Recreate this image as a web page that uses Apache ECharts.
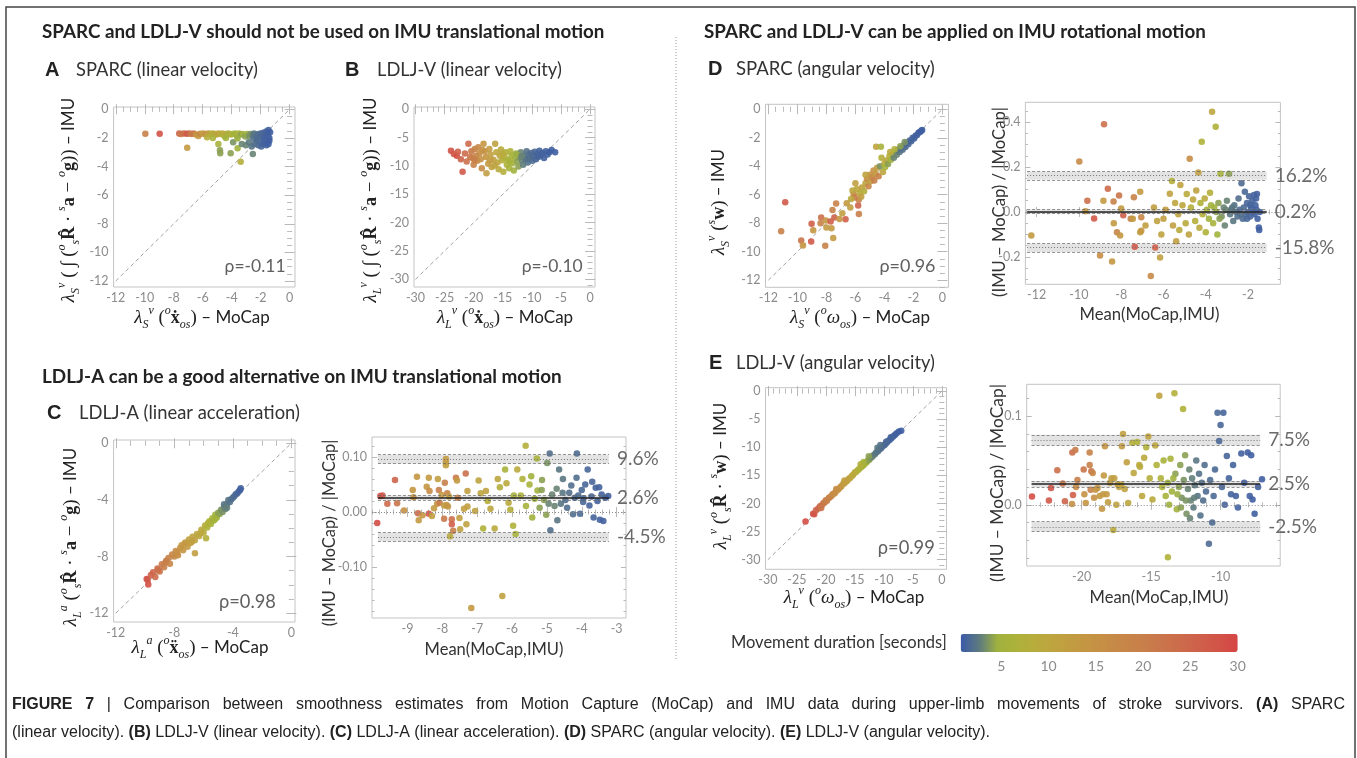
<!DOCTYPE html>
<html>
<head>
<meta charset="utf-8">
<script src="https://cdn.jsdelivr.net/npm/echarts@6/dist/echarts.min.js"></script>
</head>
<body style="margin:0;background:#fff">
<div id="main" style="width:1357px;height:758px;"></div>
<script>
// points: [MoCap (or mean), IMU (or relative difference), movement duration in s]
var sparcLin = [
  [-9.96,-1.71,20],[-8.97,-1.71,28],[-7.62,-1.70,25],[-7.50,-1.72,21],[-7.30,-1.70,23],[-7.10,-1.71,27],[-6.92,-1.70,26],[-6.78,-1.72,19],
  [-6.62,-1.70,22],[-6.47,-1.76,15],[-6.30,-1.86,13],[-6.18,-1.71,17],[-5.98,-1.70,12],[-5.82,-1.73,15],[-5.62,-1.70,13],[-5.46,-1.71,10],
  [-5.30,-1.70,7],[-5.16,-1.72,11],[-5.04,-1.76,9],[-4.90,-1.70,12],[-4.78,-1.73,8],[-4.62,-1.70,9],[-4.50,-1.86,7],[-4.36,-1.72,10],
  [-4.22,-1.70,6],[-4.06,-1.76,8],[-3.92,-1.72,6],[-3.76,-1.70,5],[-3.62,-1.86,5],[-3.50,-1.70,7],[-3.36,-1.76,4],[-3.22,-1.72,5],
  [-3.06,-1.90,4],[-2.92,-1.72,4.5],[-2.80,-1.86,3.5],[-2.70,-1.72,3.5],[-2.56,-1.80,3],[-2.46,-1.70,2.5],[-2.36,-1.86,2.5],[-2.22,-1.75,2],
  [-2.12,-1.95,2],[-2.02,-1.70,1.8],[-1.92,-1.80,1.6],[-1.82,-1.64,1.5],[-1.72,-1.90,1.4],[-1.62,-1.55,1.3],[-1.52,-1.70,1.2],[-1.46,-1.45,1.1],
  [-1.40,-2.00,1.1],[-1.35,-1.60,1.0],[-7.07,-2.68,13],[-4.92,-2.43,6],[-4.81,-2.87,4],[-4.79,-3.08,4],[-4.07,-3.08,4],[-3.59,-2.73,5],
  [-3.38,-3.66,8],[-2.54,-3.13,3],[-3.90,-2.30,3.5],[-3.30,-2.42,3],[-3.02,-2.52,3],[-2.82,-2.30,2.6],[-2.62,-2.60,2.4],[-2.42,-2.42,2],
  [-2.30,-2.20,2],[-2.16,-2.52,1.8],[-2.02,-2.30,1.5],[-1.96,-2.60,1.5],[-1.82,-2.40,1.3],[-1.70,-2.20,1.3],[-1.60,-2.52,1.2],[-1.54,-2.30,1.1],
  [-1.46,-2.42,1.0],[-1.40,-2.20,1.0],[-2.50,-2.02,2.2],[-2.26,-2.02,1.8],[-1.76,-2.06,1.2],[-1.50,-1.86,1.1],[-3.60,-2.05,4.5],[-4.40,-2.00,5],
  [-5.30,-2.00,6],[-5.70,-1.95,8]
];
var ldljLin = [
  [-23.9,-7.3,28],[-23.4,-7.9,27],[-22.9,-8.2,29],[-22.7,-7.5,26],[-21.9,-11.0,27],[-22.2,-8.8,25],[-21.5,-7.8,24],[-21.2,-9.2,23],
  [-20.9,-6.1,24],[-20.6,-8.4,22],[-20.4,-7.4,21],[-20.2,-8.6,20],[-20.0,-9.8,19],[-19.8,-7.0,19],[-19.6,-8.2,18],[-19.4,-9.1,18],
  [-19.2,-6.7,17],[-19.0,-7.8,16],[-18.8,-8.8,15],[-18.6,-10.4,16],[-18.3,-6.1,14],[-18.1,-7.4,15],[-17.9,-8.4,14],[-17.8,-11.3,12],
  [-17.5,-9.6,13],[-17.3,-7.0,13],[-17.1,-8.0,12],[-16.9,-10.2,11],[-16.6,-8.9,12],[-16.3,-6.1,11],[-16.1,-7.6,10],[-15.9,-9.4,10],
  [-15.7,-10.6,9],[-15.5,-8.2,10],[-15.3,-7.1,9],[-15.1,-9.0,8],[-14.9,-11.0,8],[-14.7,-8.5,8],[-14.5,-7.6,7],[-14.3,-9.8,7],
  [-14.1,-8.9,6],[-13.9,-10.4,6],[-13.7,-7.4,7],[-13.5,-8.2,6],[-13.3,-9.5,5],[-13.1,-10.8,5],[-12.9,-8.6,5],[-12.7,-7.8,4.5],
  [-12.5,-9.2,4],[-12.3,-10.1,4],[-12.1,-8.4,3.5],[-11.9,-7.6,3],[-11.7,-9.0,3],[-11.5,-9.8,2.8],[-11.3,-8.2,2.6],[-11.1,-8.8,2.4],
  [-10.9,-7.4,2.2],[-10.7,-9.4,2.2],[-10.5,-8.0,2],[-10.3,-8.6,2],[-10.1,-7.7,1.8],[-9.9,-9.1,1.8],[-9.7,-8.3,1.6],[-9.5,-7.5,1.6],
  [-9.3,-8.8,1.5],[-9.1,-7.9,1.4],[-8.9,-8.4,1.4],[-8.7,-7.3,1.3],[-8.5,-8.1,1.3],[-8.2,-7.7,1.2],[-7.9,-8.6,1.2],[-7.6,-7.4,1.1],
  [-7.3,-8.0,1.1],[-7.0,-7.6,1.0],[-6.6,-7.2,1.0],[-6.0,-7.6,1.0],[-19.9,-8.9,20],[-18.5,-7.2,15],[-17.2,-9.0,13],[-16.4,-9.9,11],
  [-15.0,-7.9,9],[-13.8,-9.2,6],[-12.6,-8.0,4.5],[-11.8,-8.3,3],[-10.6,-8.7,2]
];
var ldljAcc = [
  [-9.89,-9.58,29],[-9.78,-9.98,28],[-9.82,-9.65,27],[-9.60,-9.30,26],[-9.45,-9.10,25],[-9.30,-9.45,24],[-9.15,-8.85,23],[-9.00,-9.05,22],
  [-8.85,-8.55,21],[-8.70,-8.75,20],[-8.55,-8.30,19],[-8.40,-8.10,19],[-8.30,-8.50,18],[-8.15,-7.85,18],[-8.00,-8.00,17],[-7.90,-7.60,16],
  [-7.75,-7.90,16],[-7.60,-7.40,15],[-7.50,-7.20,14],[-7.40,-7.55,14],[-7.25,-7.00,13],[-7.10,-7.30,13],[-7.00,-6.80,12],[-6.90,-7.05,12],
  [-6.75,-6.60,11],[-6.60,-6.85,11],[-6.59,-7.76,12],[-6.45,-6.40,10],[-6.30,-6.55,10],[-6.15,-6.10,9],[-6.00,-6.30,9],[-5.90,-5.80,8],
  [-5.83,-6.70,8],[-5.75,-5.95,7],[-5.60,-5.50,7],[-5.50,-5.70,6],[-5.40,-5.30,6],[-5.30,-5.45,5],[-5.20,-5.05,5],[-5.10,-5.25,4.5],
  [-5.00,-4.90,4],[-4.90,-5.00,4],[-4.80,-4.70,3.5],[-4.70,-4.85,3.5],[-4.60,-4.50,3],[-4.50,-4.65,3],[-4.40,-4.30,2.6],[-4.31,-4.00,2.4],
  [-4.20,-4.15,2.2],[-4.10,-3.95,2],[-4.00,-3.85,1.9],[-3.90,-3.75,1.8],[-3.80,-3.60,1.6],[-3.70,-3.55,1.5],[-3.60,-3.40,1.4],[-3.50,-3.30,1.2],
  [-3.46,-3.18,1.1],[-4.60,-4.30,2.5],[-4.40,-4.55,2.8],[-5.20,-5.35,5.5],[-5.70,-5.65,7],[-6.20,-6.35,9.5],[-6.80,-6.95,11.5],[-7.30,-7.10,13.5],
  [-7.80,-7.75,15.5],[-8.60,-8.40,20],[-9.10,-8.95,23]
];
var ldljAccBA = [
  [-9.87,-0.020,29],[-9.78,0.029,28],[-9.72,0.030,27],[-9.58,0.015,24],[-9.36,0.058,25],[-9.30,0.016,22],[-9.10,0.003,15],[-8.85,0.040,14],
  [-8.83,0.027,15],[-8.73,0.064,14],[-8.70,-0.002,24],[-8.68,-0.015,13],[-8.57,-0.006,14],[-8.45,0.046,14],[-8.39,0.062,13],[-8.39,-0.003,27],
  [-8.37,0.038,16],[-8.30,-0.007,12],[-8.24,0.007,13],[-8.15,0.015,14],[-8.13,0.060,12],[-8.10,0.040,20],[-8.08,0.017,21],[-8.02,0.031,13],
  [-7.95,-0.012,21],[-7.95,0.012,12],[-7.93,0.053,20],[-7.90,0.096,13],[-7.90,0.090,13],[-7.90,0.085,12],[-7.88,0.013,13],[-7.86,0.034,19],
  [-7.84,0.010,14],[-7.81,0.028,12],[-7.78,-0.044,9],[-7.73,-0.013,23],[-7.73,-0.022,26],[-7.69,-0.034,20],[-7.61,0.062,21],[-7.58,0.057,13],
  [-7.56,0.026,20],[-7.51,-0.011,12],[-7.49,-0.031,11],[-7.38,0.006,12],[-7.33,0.070,23],[-7.31,-0.022,11],[-7.28,0.038,12],[-7.28,0.010,12],
  [-7.17,-0.174,13],[-7.06,0.002,11],[-6.96,0.057,11],[-6.90,0.034,10],[-6.83,-0.030,7],[-6.75,0.038,11],[-6.62,0.006,10],[-6.50,-0.030,9],
  [-6.41,0.060,10],[-6.28,-0.152,11],[-6.20,0.077,6],[-6.16,0.052,9],[-6.10,0.017,9],[-6.05,0.004,8],[-5.97,-0.025,7],[-5.90,-0.040,6],
  [-5.85,0.077,9],[-5.75,0.030,7],[-5.61,0.120,8],[-5.60,0.011,6],[-5.50,0.050,6],[-5.42,-0.010,5],[-5.35,0.024,5],[-5.29,0.097,6],
  [-5.27,0.039,5],[-5.21,0.008,4],[-5.14,0.058,4],[-5.08,0.022,4],[-5.02,-0.005,4],[-4.99,0.089,3.5],[-4.92,0.106,2],[-4.90,-0.033,2],
  [-4.85,0.032,3],[-4.78,0.011,3],[-4.72,0.042,3],[-4.65,0.077,2.5],[-4.60,0.015,2.5],[-4.54,0.060,2.5],[-4.47,0.022,2],[-4.42,0.008,2],
  [-4.36,0.035,2],[-4.30,0.048,2],[-4.25,-0.004,2],[-4.20,0.026,1.8],[-4.14,0.106,1.8],[-4.10,0.030,1.8],[-4.05,-0.003,1.7],[-4.00,0.040,1.6],
  [-3.96,0.018,1.6],[-3.90,0.050,1.5],[-3.83,0.077,1.5],[-3.78,0.012,1.4],[-3.72,0.028,1.4],[-3.66,-0.010,1.4],[-3.60,0.044,1.3],[-3.55,0.020,1.3],
  [-3.48,-0.014,1.2],[-3.43,0.032,1.2],[-3.38,-0.016,1.2],[-3.32,0.026,1.1],[-3.24,0.029,1.1],[-6.70,0.020,8],[-6.35,0.045,8],[-5.95,0.030,6],
  [-5.70,0.060,7],[-5.45,0.065,5],[-5.15,0.040,4],[-4.95,0.015,3],[-4.70,-0.015,2.5],[-4.55,0.035,2.5],[-4.15,0.062,2],[-3.95,0.025,1.6],
  [-3.70,0.055,1.5],[-3.50,0.045,1.3]
];
var sparcAng = [
  [-10.84,-6.52,27],[-11.12,-8.56,20],[-9.74,-9.21,22],[-9.62,-9.56,14],[-9.02,-8.04,26],[-9.05,-9.28,27],[-8.91,-8.49,14],[-8.36,-7.60,23],
  [-8.40,-8.00,19],[-8.03,-7.81,14],[-8.08,-9.59,19],[-8.00,-8.30,13],[-7.71,-7.88,26],[-7.65,-8.35,13],[-7.53,-9.03,13],[-7.58,-7.08,19],
  [-7.33,-6.61,19],[-7.45,-7.60,25],[-6.68,-7.72,26],[-6.60,-6.60,13],[-6.35,-6.90,12],[-6.12,-5.96,18],[-6.05,-6.20,20],[-5.81,-6.75,25],
  [-5.77,-6.35,19],[-5.76,-7.36,20],[-6.00,-5.20,12],[-5.90,-5.60,10],[-5.70,-5.90,9],[-5.55,-5.50,11],[-5.40,-5.75,8],[-5.30,-5.20,10],
  [-5.20,-4.90,16],[-5.10,-5.40,18],[-5.00,-4.60,14],[-4.95,-5.05,12],[-4.85,-4.75,17],[-4.75,-4.30,15],[-4.70,-5.00,20],[-4.60,-4.55,13],
  [-4.57,-2.63,11],[-4.50,-4.10,12],[-4.40,-4.70,19],[-4.30,-4.00,3.5],[-4.24,-2.63,6],[-4.20,-3.40,8],[-4.10,-4.40,10],[-4.00,-3.80,9],
  [-3.95,-4.05,6],[-3.85,-3.60,10],[-3.75,-3.85,4],[-3.65,-3.30,8],[-3.55,-3.55,5],[-3.45,-3.20,7],[-3.35,-3.40,3],[-3.25,-3.05,6],
  [-3.15,-3.20,3],[-3.05,-2.85,2.5],[-2.95,-3.00,2.5],[-2.85,-2.70,2.2],[-2.75,-2.85,2],[-2.65,-2.55,2],[-2.55,-2.65,1.8],[-2.45,-2.35,1.7],
  [-2.35,-2.45,1.6],[-2.25,-2.20,1.5],[-2.15,-2.25,1.4],[-2.05,-2.00,1.3],[-1.95,-2.05,1.3],[-1.85,-1.85,1.2],[-1.75,-1.80,1.2],[-1.65,-1.65,1.1],
  [-1.55,-1.60,1.1],[-1.45,-1.50,1.0],[-1.40,-1.45,1.0],[-3.60,-3.00,9],[-3.30,-2.80,7],[-2.90,-2.60,4],[-2.60,-2.30,3.5],[-5.30,-4.60,11],
  [-6.20,-5.70,10],[-6.30,-6.30,9],[-6.90,-7.30,12],[-7.10,-7.70,14],[-5.60,-6.15,12]
];
var sparcAngBA = [
  [-12.25,-0.105,13],[-9.98,0.225,17],[-9.69,0.003,13],[-9.60,0.050,23],[-9.28,-0.029,27],[-9.00,-0.194,16],[-8.84,0.050,13],[-8.81,0.390,23],
  [-8.63,0.103,24],[-8.43,-0.220,14],[-8.36,0.047,19],[-8.35,-0.050,13],[-8.20,-0.090,18],[-8.10,0.073,22],[-8.05,-0.105,14],[-8.00,0.015,13],
  [-7.90,-0.015,26],[-7.55,-0.030,19],[-7.45,-0.030,13],[-7.40,0.065,19],[-7.36,-0.155,27],[-7.10,-0.090,12],[-7.10,0.090,13],[-7.05,-0.024,18],
  [-7.05,-0.084,14],[-6.85,-0.060,12],[-6.60,-0.285,17],[-6.45,0.020,12],[-6.39,-0.158,26],[-6.30,-0.040,11],[-6.16,-0.203,12],[-6.10,-0.100,11],
  [-6.00,-0.030,12],[-5.90,0.010,13],[-5.70,0.081,11],[-5.60,0.138,8],[-5.55,-0.060,12],[-5.45,0.040,10],[-5.40,-0.130,12],[-5.30,-0.010,11],
  [-5.25,-0.080,9],[-5.20,0.120,11],[-5.10,0.030,10],[-4.95,-0.050,9],[-4.90,0.080,9],[-4.80,-0.100,11],[-4.76,0.237,16],[-4.70,0.020,8],
  [-4.60,0.055,10],[-4.50,-0.040,8],[-4.45,0.095,11],[-4.35,0.176,12],[-4.30,-0.070,9],[-4.25,0.040,7],[-4.19,0.312,7],[-4.15,-0.010,8],
  [-4.05,0.060,9],[-4.00,-0.090,7],[-3.95,0.010,6],[-3.85,-0.030,5],[-3.80,0.085,8],[-3.75,0.030,5],[-3.70,0.446,10],[-3.65,-0.050,6],
  [-3.53,0.379,7],[-3.50,0.000,4],[-3.45,-0.100,5],[-3.40,0.040,4],[-3.30,0.170,6],[-3.25,-0.020,3.5],[-3.15,0.020,3],[-3.10,-0.060,3],
  [-3.00,0.050,3],[-2.90,0.170,4],[-2.85,-0.010,2.5],[-2.80,0.010,2.5],[-2.70,-0.040,2.5],[-2.65,0.030,2.2],[-2.55,0.000,2],[-2.50,-0.020,2],
  [-2.45,0.060,2],[-2.40,0.010,1.8],[-2.31,0.128,1.8],[-2.25,-0.030,1.8],[-2.20,0.020,1.7],[-2.15,0.090,1.6],[-2.10,-0.010,1.6],[-2.05,0.040,1.5],
  [-2.00,0.000,1.5],[-1.95,0.070,1.4],[-1.90,-0.020,1.4],[-1.85,0.020,1.3],[-1.80,0.050,1.3],[-1.75,0.000,1.2],[-1.70,-0.010,1.2],[-1.65,0.030,1.2],
  [-1.60,0.010,1.1],[-1.55,-0.030,1.1],[-1.49,-0.069,1.0],[-1.47,-0.080,1.0],[-1.45,0.000,1.0],[-3.60,0.020,5],[-3.35,-0.030,4],[-3.05,0.010,3],
  [-2.75,0.020,2.5],[-2.35,-0.010,2],[-2.05,-0.030,1.5],[-1.90,0.030,1.3],[-1.62,0.060,1.2],[-1.58,0.080,1.1],[-1.72,0.075,1.2]
];
var ldljAng = [
  [-23.5,-23.2,29],[-22.2,-21.8,27],[-22.0,-21.9,28],[-21.7,-21.2,26],[-21.3,-20.9,25],[-21.0,-20.5,24],[-20.7,-20.3,23],[-20.4,-19.9,22],
  [-20.2,-19.8,21],[-20.0,-19.4,20],[-19.8,-19.5,20],[-19.5,-19.0,19],[-19.3,-18.9,18],[-19.0,-18.6,18],[-18.8,-18.3,17],[-18.5,-18.2,16],
  [-18.3,-17.9,16],[-18.0,-17.6,15],[-17.8,-17.4,15],[-17.5,-17.1,14],[-17.3,-16.9,14],[-17.0,-16.5,13],[-16.8,-16.4,13],[-16.5,-16.1,12],
  [-16.3,-15.9,12],[-16.0,-15.6,11],[-15.8,-15.4,11],[-15.5,-15.1,10],[-15.3,-14.9,10],[-15.0,-14.5,9],[-14.8,-14.4,9],[-14.5,-14.1,8],
  [-14.3,-13.9,7],[-14.0,-13.6,7],[-13.8,-13.4,6],[-13.5,-13.2,6],[-13.3,-12.9,5],[-13.0,-12.7,5],[-12.8,-12.4,4],[-12.5,-12.2,4],
  [-12.3,-11.9,3.5],[-12.0,-11.7,3],[-11.8,-11.4,3],[-11.5,-11.2,2.6],[-11.3,-10.9,2.4],[-11.0,-10.7,2.2],[-10.8,-10.4,2],[-10.5,-10.2,2],
  [-10.3,-9.9,1.8],[-10.0,-9.7,1.7],[-9.8,-9.5,1.6],[-9.5,-9.2,1.5],[-9.3,-8.9,1.4],[-9.0,-8.7,1.3],[-8.7,-8.4,1.2],[-8.4,-8.1,1.2],
  [-8.1,-7.8,1.1],[-7.8,-7.5,1.1],[-7.4,-7.2,1.0],[-7.0,-7.05,1.0],[-14.0,-13.0,8],[-13.5,-12.6,6],[-12.6,-11.6,4],[-11.1,-10.1,2.5],
  [-10.6,-9.6,2.2],[-16.8,-15.9,12],[-18.2,-17.4,16],[-20.8,-20.8,22],[-9.6,-9.0,1.6],[-8.8,-8.2,1.3]
];
var ldljAngBA = [
  [-23.57,0.0095,29],[-22.35,0.005,27],[-22.20,0.019,28],[-21.75,0.039,23],[-21.20,0.004,25],[-21.36,0.024,22],[-20.67,0.059,23],[-20.45,0.062,21],
  [-20.62,0.011,26],[-20.69,0.001,15],[-20.40,0.020,16],[-20.30,0.028,20],[-19.85,0.040,22],[-19.80,0.012,15],[-19.70,0.002,14],[-19.42,0.059,19],
  [-19.42,0.045,20],[-19.35,0.017,19],[-19.30,0.038,22],[-19.20,0.036,18],[-19.10,0.008,15],[-19.00,0.017,14],[-18.85,0.019,14],[-18.70,0.010,13],
  [-18.53,-0.0045,14],[-18.45,0.012,13],[-18.40,0.033,13],[-18.32,0.066,14],[-18.20,0.012,13],[-18.10,0.003,12],[-17.95,0.025,12],[-17.85,0.030,12],
  [-17.72,-0.0285,9],[-17.65,0.030,12],[-17.50,0.000,11],[-17.40,0.023,11],[-17.30,0.020,12],[-17.15,0.023,11],[-17.02,0.080,12],[-17.10,0.066,13],
  [-16.90,0.018,11],[-16.75,0.048,12],[-16.65,0.002,10],[-16.35,0.070,8],[-16.25,0.036,10],[-16.00,0.071,7],[-15.85,0.045,9],[-15.80,0.043,9],
  [-15.65,0.010,10],[-15.35,0.065,7],[-15.20,0.077,11],[-15.10,0.030,8],[-14.90,0.006,9],[-14.70,0.067,10],[-14.41,0.123,11],[-14.30,0.030,7],
  [-14.10,0.050,6],[-13.95,0.010,6],[-13.80,0.025,5],[-13.79,-0.059,7],[-13.60,0.052,6],[-13.50,0.015,5],[-13.32,0.126,8],[-13.25,0.035,4],
  [-13.15,-0.005,5],[-13.00,0.020,4],[-12.90,0.045,4],[-12.80,0.008,3.5],[-12.70,0.108,7],[-12.65,0.028,3.5],[-12.55,0.056,4],[-12.45,-0.010,3.5],
  [-12.35,0.018,3],[-12.25,0.040,3],[-12.15,0.005,3],[-12.05,0.030,2.8],[-11.95,-0.003,2.6],[-11.85,0.022,2.6],[-11.75,0.050,2.4],[-11.65,0.010,2.4],
  [-11.55,0.035,2.2],[-11.45,-0.012,2.2],[-11.35,0.025,2],[-11.25,0.005,2],[-11.15,0.045,2],[-11.05,0.015,1.8],[-10.84,-0.044,1.8],[-10.75,0.028,1.8],
  [-10.60,-0.020,1.7],[-10.50,0.010,1.7],[-10.40,0.040,1.6],[-10.22,0.104,1.6],[-10.10,0.072,1.5],[-10.00,0.090,1.5],[-9.90,0.020,1.5],[-9.80,0.104,1.4],
  [-9.70,0.000,1.4],[-9.55,0.055,1.4],[-9.40,0.030,1.3],[-9.25,0.012,1.3],[-9.10,0.045,1.3],[-8.90,0.010,1.2],[-8.75,-0.003,1.2],[-8.51,0.058,1.2],
  [-8.30,0.025,1.1],[-8.05,0.059,1.1],[-7.90,0.010,1.1],[-7.80,0.056,1.0],[-7.70,0.006,1.0],[-7.55,-0.010,1.0],[-7.30,0.020,1.0],[-7.02,0.029,1.0],
  [-13.70,0.000,5],[-13.40,0.030,5],[-13.10,0.012,4.5],[-12.85,-0.003,4],[-12.50,0.005,3.5],[-12.20,-0.015,3],[-11.90,0.008,2.8],[-14.60,0.045,7],
  [-14.20,0.020,6.5],[-15.50,0.053,9]
];

// Bland-Altman: lower limit, mean, upper limit; shaded confidence bands; labels; x extent
var baLines = [[-0.045, 0.026, 0.096], [-0.158, 0.002, 0.162], [-0.025, 0.024, 0.073]];
var baBands = [
  [[-0.053, -0.037], [0.022, 0.030], [0.088, 0.104]],
  [[-0.178, -0.140], [-0.008, 0.011], [0.143, 0.180]],
  [[-0.030, -0.019], [0.020, 0.027], [0.067, 0.079]]
];
var baLabels = [['-4.5%', '2.6%', '9.6%'], ['-15.8%', '0.2%', '16.2%'], ['-2.5%', '2.5%', '7.5%']];
var baSpan = [[-9.85, -3.22], [-12.45, -1.12], [-23.6, -7.15]];
var rhoLabels = ['ρ=-0.11', 'ρ=-0.10', 'ρ=0.98', 'ρ=0.96', 'ρ=0.99'];

// tick labels
var ticks12 = [-12, -10, -8, -6, -4, -2, 0];
var ticks12by4 = [-12, -8, -4, 0];
var ticks30 = [-30, -25, -20, -15, -10, -5, 0];
var ticksMeanAcc = [-9, -8, -7, -6, -5, -4, -3];
var ticksDiffAcc = [-0.1, 0, 0.1];
var ticksMeanSparc = [-12, -10, -8, -6, -4, -2];
var ticksDiffSparc = [-0.2, 0, 0.2, 0.4];
var ticksMeanLdlj = [-20, -15, -10];
var ticksDiffLdlj = [0, 0.1];
var ticksDuration = [5, 10, 15, 20, 25, 30];
var durationColors = ['#3b5aa8', '#5d7a80', '#a0b23e', '#acb23a', '#b8ac3c', '#bea43f', '#c29c41', '#c59444',
  '#c68c46', '#c78548', '#c87e4a', '#ca744b', '#cc6a4b', '#cf5f4a', '#d25347', '#d64545'];

var ctx = document.createElement('canvas').getContext('2d');
function fit(str, target, family, weight) {
  ctx.font = (weight || 'normal') + ' 40px "' + family + '"';
  return 40 * target / ctx.measureText(str).width;
}

var plots = [
  {box: [113.6, 107, 181.4, 180], xr: [-12.15, 0.37], yr: [-12.42, 0.16], xt: ticks12, yt: ticks12, xs: 0.5, ys: 0.5, data: sparcLin, diag: -12},
  {box: [414, 107, 181, 180], xr: [-30.25, 0.85], yr: [-31.35, 0.4], xt: ticks30, yt: ticks30, xs: 1, ys: 1, data: ldljLin, diag: -30},
  {box: [113.6, 440, 181.4, 182], xr: [-12.15, 0.25], yr: [-12.62, 0.23], xt: ticks12by4, yt: ticks12by4, xs: 1, ys: 1, data: ldljAcc, diag: -12},
  {box: [372, 437, 254, 181], xr: [-10.02, -2.73], yr: [-0.192, 0.136], xt: ticksMeanAcc, yt: ticksDiffAcc, xs: 0.2, ys: 0.02, data: ldljAccBA, ba: 0, dec: 2},
  {box: [765.5, 104.3, 183, 183], xr: [-12.2, 0.42], yr: [-12.5, 0.35], xt: ticks12, yt: ticks12, xs: 0.5, ys: 0.5, data: sparcAng, diag: -12},
  {box: [1025.4, 102.3, 255, 182], xr: [-12.53, -0.47], yr: [-0.322, 0.488], xt: ticksMeanSparc, yt: ticksDiffSparc, xs: 0.5, ys: 0.05, data: sparcAngBA, ba: 1, dec: 1},
  {box: [765.5, 387.7, 181, 181.6], xr: [-30.4, 0.8], yr: [-31.7, 0.6], xt: ticks30, yt: ticks30, xs: 1, ys: 1, data: ldljAng, diag: -30},
  {box: [1026.7, 384.3, 253.5, 181.7], xr: [-23.95, -5.71], yr: [-0.069, 0.136], xt: ticksMeanLdlj, yt: ticksDiffLdlj, xs: 1, ys: 0.02, data: ldljAngBA, ba: 2, dec: 1}
];

function makeAxes(dim, gi, range, major, step, fmt) {
  var pos = dim === 'x' ? ['bottom', 'top'] : ['left', 'right'];
  var minor = [];
  for (var v = Math.ceil(range[0] / step - 1e-9) * step; v <= range[1] + 1e-9; v += step) minor.push(+v.toFixed(4));
  function one(position, ticks, len, withLabel) {
    return {
      type: 'value', gridIndex: gi, position: position, min: range[0], max: range[1],
      axisLine: {show: false}, splitLine: {show: false},
      axisTick: {show: true, inside: true, length: len, customValues: ticks, lineStyle: {color: '#b8b8b8', width: 1}},
      axisLabel: withLabel ? {show: true, customValues: major, formatter: fmt, color: '#8c8c8c',
        fontFamily: 'Lato', fontSize: 12.5, margin: dim === 'x' ? 4 : 5} : {show: false}
    };
  }
  return [one(pos[0], major, 5, true), one(pos[0], minor, 2.5, false), one(pos[1], major, 5, false), one(pos[1], minor, 2.5, false)];
}

var grids = [], xAxes = [], yAxes = [], series = [], scatterIdx = [];
plots.forEach(function (p, i) {
  grids.push({left: p.box[0], top: p.box[1], width: p.box[2], height: p.box[3], show: true,
    borderColor: '#c4c4c4', borderWidth: 1, containLabel: false});
  var yfmt = p.dec ? function (v) { return v.toFixed(p.dec); } : null;
  xAxes = xAxes.concat(makeAxes('x', i, p.xr, p.xt, p.xs, null));
  yAxes = yAxes.concat(makeAxes('y', i, p.yr, p.yt, p.ys, yfmt));
  if (p.diag !== undefined) {
    series.push({type: 'line', xAxisIndex: 4 * i, yAxisIndex: 4 * i, data: [[p.diag, p.diag], [0, 0]],
      symbol: 'none', silent: true, z: 1, lineStyle: {color: '#8a8a8a', width: 0.8, type: [4, 3]}});
  }
  if (p.ba !== undefined) {
    var k = p.ba, s = baSpan[k];
    var mk = [{yAxis: 0, lineStyle: {color: '#8a8a8a', width: 1, type: [1, 2]}, label: {show: false}}];
    baBands[k].forEach(function (b) {
      b.forEach(function (v) {
        mk.push([{coord: [s[0], v], lineStyle: {color: '#666', width: 0.7, type: [3, 2]}, label: {show: false}}, {coord: [s[1], v]}]);
      });
    });
    baLines[k].forEach(function (v, j) {
      var isMean = j === 1;
      mk.push([{coord: [s[0], v],
        lineStyle: isMean ? {color: '#222', width: 1.6, type: 'solid'} : {color: '#777', width: 1, type: [1, 2]},
        label: {show: true, position: 'end', formatter: baLabels[k][j], color: '#6a6a6a', fontFamily: 'Lato', fontSize: 19, distance: 8}},
        {coord: [s[1], v]}]);
    });
    series.push({type: 'line', xAxisIndex: 4 * i, yAxisIndex: 4 * i, data: [], silent: true, z: 1,
      markArea: {silent: true, itemStyle: {color: '#e3e3e3'},
        data: baBands[k].map(function (b) { return [{coord: [s[0], b[0]]}, {coord: [s[1], b[1]]}]; })},
      markLine: {silent: true, symbol: ['none', 'none'], data: mk}});
  }
  scatterIdx.push(series.length);
  series.push({type: 'scatter', xAxisIndex: 4 * i, yAxisIndex: 4 * i, data: p.data, symbolSize: 6.5,
    itemStyle: {opacity: 0.9}, z: 3, silent: true});
});

// grid that carries the colour-bar tick labels
grids.push({left: 960.7, top: 634, width: 277, height: 18, show: false});
xAxes.push({type: 'value', gridIndex: 8, min: 0.7, max: 30, axisLine: {show: false}, axisTick: {show: false}, splitLine: {show: false},
  axisLabel: {customValues: ticksDuration, color: '#8c8c8c', fontFamily: 'Lato', fontSize: 14, margin: 7}});
yAxes.push({type: 'value', gridIndex: 8, show: false});

function txt(x, y, text, size, opt) {
  opt = opt || {};
  return {type: 'text', x: x, y: y, rotation: opt.rot || 0, scaleX: opt.sx || 1, silent: true,
    style: {text: text, fontSize: size, fontFamily: opt.family || 'Lato', fontWeight: opt.weight || 'normal',
      fill: opt.color || '#222', align: opt.align || 'left', verticalAlign: 'middle', rich: opt.rich}};
}
var mathRich = {
  m: {fontFamily: 'Liberation Serif', fontStyle: 'italic', fontSize: 19, lineHeight: 26},
  b: {fontFamily: 'Liberation Serif', fontWeight: 'bold', fontSize: 18, lineHeight: 26},
  r: {fontFamily: 'Liberation Serif', fontSize: 19, lineHeight: 26},
  sup: {fontFamily: 'Liberation Serif', fontStyle: 'italic', fontSize: 12, lineHeight: 14, verticalAlign: 'top'},
  sub: {fontFamily: 'Liberation Serif', fontStyle: 'italic', fontSize: 12, lineHeight: 14, verticalAlign: 'bottom'},
  s: {fontFamily: 'Lato', fontSize: 17, lineHeight: 26}
};
function math(x, y, text, rot) { return txt(x, y, text, 19, {align: 'center', rot: rot, rich: mathRich, color: '#222'}); }

var t1 = 'SPARC and LDLJ-V should not be used on IMU translational motion';
var t2 = 'LDLJ-A can be a good alternative on IMU translational motion';
var t3 = 'SPARC and LDLJ-V can be applied on IMU rotational motion';
var subs = [['SPARC (linear velocity)', 76, 70, 182], ['LDLJ-V (linear velocity)', 377, 70, 185],
  ['LDLJ-A (linear acceleration)', 79, 413, 221], ['SPARC (angular velocity)', 736, 69, 199], ['LDLJ-V (angular velocity)', 736, 363, 199]];
var letters = [['A', 45, 70], ['B', 345, 70], ['C', 47, 413], ['D', 708, 69], ['E', 709, 363]];
var rhoPos = [[224.6, 266, 61], [521.7, 266, 61], [219, 602, 57], [879.5, 266, 56], [877.8, 548, 57]];
var baY = '(IMU – MoCap) / |MoCap|', meanX = 'Mean(MoCap,IMU)';

// caption: justified first line, ragged last line, condensed sans
var capFont = 'Liberation Sans', capSize = 16;
var cap1 = 'FIGURE 7 | Comparison between smoothness estimates from Motion Capture (MoCap) and IMU data during upper-limb movements of stroke survivors. (A) SPARC';
var cap2 = '(linear velocity). (B) LDLJ-V (linear velocity). (C) LDLJ-A (linear acceleration). (D) SPARC (angular velocity). (E) LDLJ-V (angular velocity).';
var capBold = ['FIGURE', '7', '(A)', '(B)', '(C)', '(D)', '(E)'];
function wordW(w) {
  ctx.font = (capBold.indexOf(w) >= 0 ? 'bold ' : 'normal ') + capSize + 'px "' + capFont + '"';
  return ctx.measureText(w).width;
}
ctx.font = 'normal ' + capSize + 'px "' + capFont + '"';
var spaceW = ctx.measureText(' ').width;
var words2 = cap2.split(' ');
var nat2 = words2.reduce(function (a, w) { return a + wordW(w); }, 0) + spaceW * (words2.length - 1);
var capScale = 978 / nat2;
function captionLine(words, y, width) {
  var tot = words.reduce(function (a, w) { return a + wordW(w) * capScale; }, 0);
  var gap = width ? (width - tot) / (words.length - 1) : spaceW * capScale;
  var x = 12, out = [];
  words.forEach(function (w) {
    out.push(txt(x, y, w, capSize, {family: capFont, sx: capScale, weight: capBold.indexOf(w) >= 0 ? 'bold' : 'normal', color: '#222'}));
    x += wordW(w) * capScale + gap;
  });
  return out;
}

var g = [
  {type: 'rect', shape: {x: 6, y: 7, width: 1349, height: 770}, style: {fill: 'none', stroke: '#444', lineWidth: 1.5}, silent: true},
  {type: 'line', shape: {x1: 676, y1: 37, x2: 676, y2: 660}, style: {stroke: '#999', lineWidth: 1, lineDash: [1, 2]}, silent: true},
  txt(42, 32, t1, fit(t1, 563, 'Lato', 'bold'), {weight: 'bold'}),
  txt(42, 377, t2, fit(t2, 520, 'Lato', 'bold'), {weight: 'bold'}),
  txt(704, 32, t3, fit(t3, 502, 'Lato', 'bold'), {weight: 'bold'}),
  txt(946.8, 643, 'Movement duration [seconds]', fit('Movement duration [seconds]', 216, 'Lato'), {align: 'right', color: '#333'}),
  // axis titles
  math(202, 318, '{m|λ}{sub|S}{sup|v}{r| (}{sup|o}{b|ẋ}{sub|os}{r|)}{s| – MoCap}'),
  math(505, 318, '{m|λ}{sub|L}{sup|v}{r| (}{sup|o}{b|ẋ}{sub|os}{r|)}{s| – MoCap}'),
  math(200, 648, '{m|λ}{sub|L}{sup|a}{r| (}{sup|o}{b|ẍ}{sub|os}{r|)}{s| – MoCap}'),
  math(860, 318, '{m|λ}{sub|S}{sup|v}{r| (}{sup|o}{m|ω}{sub|os}{r|)}{s| – MoCap}'),
  math(854, 598, '{m|λ}{sub|L}{sup|v}{r| (}{sup|o}{m|ω}{sub|os}{r|)}{s| – MoCap}'),
  math(69, 200, '{m|λ}{sub|S}{sup|v}{r| ( ∫ (}{sup|o}{sub|s}{b|R̂}{r| · }{sup|s}{b|a}{r| − }{sup|o}{b|g}{r|))}{s| – IMU}', Math.PI / 2),
  math(371, 200, '{m|λ}{sub|L}{sup|v}{r| ( ∫ (}{sup|o}{sub|s}{b|R̂}{r| · }{sup|s}{b|a}{r| − }{sup|o}{b|g}{r|))}{s| – IMU}', Math.PI / 2),
  math(71, 537, '{m|λ}{sub|L}{sup|a}{r| (}{sup|o}{sub|s}{b|R̂}{r| · }{sup|s}{b|a}{r| − }{sup|o}{b|g}{r|)}{s| – IMU}', Math.PI / 2),
  math(719, 202, '{m|λ}{sub|S}{sup|v}{r| (}{sup|s}{b|w}{r|)}{s| – IMU}', Math.PI / 2),
  math(721, 476, '{m|λ}{sub|L}{sup|v}{r| (}{sup|o}{sub|s}{b|R̂}{r| · }{sup|s}{b|w}{r|)}{s| – IMU}', Math.PI / 2),
  txt(494, 650, meanX, fit(meanX, 139, 'Lato'), {align: 'center', color: '#333'}),
  txt(1149.5, 315, meanX, fit(meanX, 140, 'Lato'), {align: 'center', color: '#333'}),
  txt(1159, 598, meanX, fit(meanX, 139, 'Lato'), {align: 'center', color: '#333'}),
  txt(330, 533, baY, fit(baY, 187, 'Lato'), {align: 'center', rot: Math.PI / 2, color: '#333'}),
  txt(999.5, 202, baY, fit(baY, 190, 'Lato'), {align: 'center', rot: Math.PI / 2, color: '#333'}),
  txt(997.5, 483, baY, fit(baY, 198, 'Lato'), {align: 'center', rot: Math.PI / 2, color: '#333'})
];
g = g.concat(captionLine(cap1.split(' '), 705, 1333), captionLine(words2, 733, 0));
subs.forEach(function (s) { g.push(txt(s[1], s[2], s[0], fit(s[0], s[3], 'Lato'), {color: '#333'})); });
letters.forEach(function (l) { g.push(txt(l[1], l[2], l[0], 20, {family: 'Liberation Sans', weight: 'bold'})); });
rhoPos.forEach(function (r, i) { g.push(txt(r[0], r[1], rhoLabels[i], fit(rhoLabels[i], r[2], 'Lato'), {color: '#606060'})); });

var chart = echarts.init(document.getElementById('main'));
chart.setOption({
  backgroundColor: '#fff',
  animation: false,
  grid: grids,
  xAxis: xAxes,
  yAxis: yAxes,
  visualMap: {
    type: 'continuous', min: 0.7, max: 30, dimension: 2, seriesIndex: scatterIdx,
    orient: 'horizontal', left: 960.7, top: 634, itemWidth: 18, itemHeight: 277, padding: 0,
    calculable: false, hoverLink: false, text: null, inRange: {color: durationColors}
  },
  series: series,
  graphic: g
});
</script>
</body>
</html>
